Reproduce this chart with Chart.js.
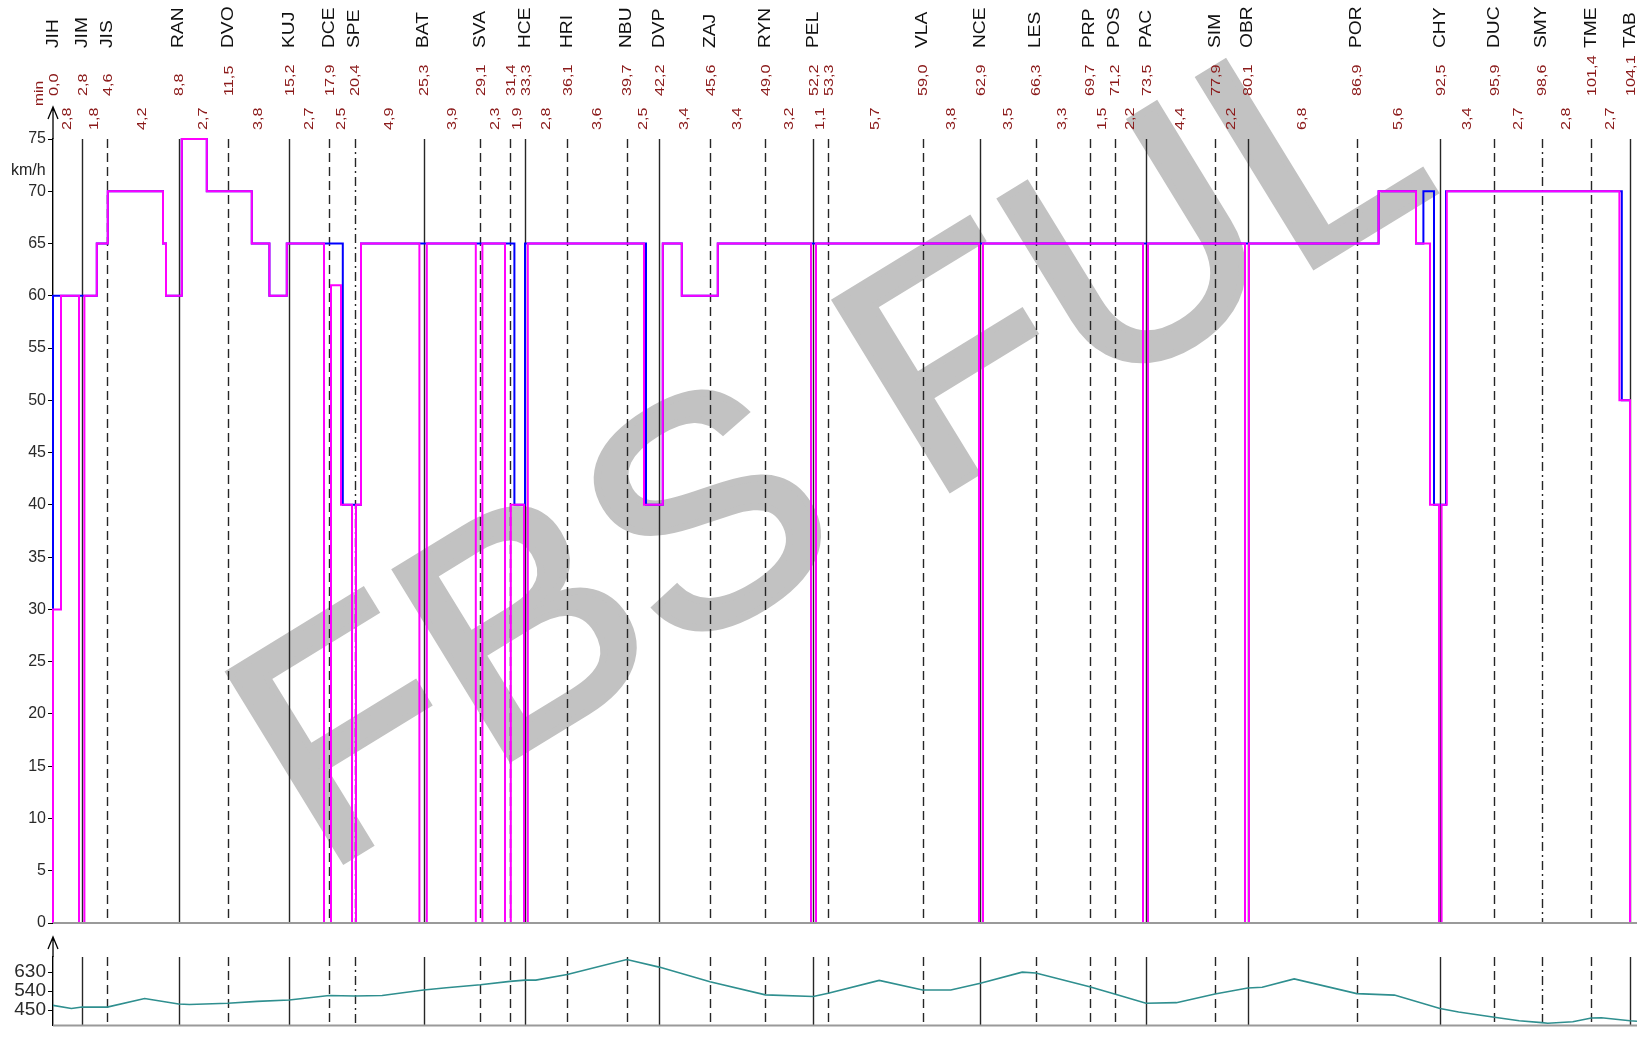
<!DOCTYPE html>
<html>
<head>
<meta charset="utf-8">
<script src="https://cdn.jsdelivr.net/npm/chart.js@4.4.1/dist/chart.umd.min.js"></script>
<style>
  body { margin: 0; background: #fff; }
  #wrap { position: relative; width: 1640px; height: 1039px; overflow: hidden; }
  canvas { position: absolute; left: 0; }
  #speed { top: 0; }
  #elev { top: 928px; }
</style>
</head>
<body>
<div id="wrap">
  <canvas id="speed" width="1640" height="940"></canvas>
  <canvas id="elev" width="1640" height="111"></canvas>
</div>
<script>
/* stanice a casy */
const stationNames = ['JIH','JIM','JIS','RAN','DVO','KUJ','DCE','SPE','BAT','SVA','','HCE','HRI','NBU','DVP','ZAJ','RYN','PEL','','VLA','NCE','LES','PRP','POS','PAC','SIM','OBR','POR','CHY','DUC','SMY','TME','TAB'];
const stationKm = [0, 1.45, 2.7, 6.28, 8.75, 11.8, 13.8, 15.08, 18.53, 21.37, 22.85, 23.6, 25.71, 28.69, 30.31, 32.85, 35.62, 38.01, 38.76, 43.48, 46.37, 49.14, 51.83, 53.08, 54.65, 58.1, 59.74, 65.19, 69.35, 72.07, 74.44, 76.92, 78.85];
const stationTimes = ['0,0','2,8','4,6','8,8','11,5','15,2','17,9','20,4','25,3','29,1','31,4','33,3','36,1','39,7','42,2','45,6','49,0','52,2','53,3','59,0','62,9','66,3','69,7','71,2','73,5','77,9','80,1','86,9','92,5','95,9','98,6','101,4','104,1'];
const segmentTimes = ['2,8','1,8','4,2','2,7','3,8','2,7','2,5','4,9','3,9','2,3','1,9','2,8','3,6','2,5','3,4','3,4','3,2','1,1','5,7','3,8','3,5','3,3','1,5','2,2','4,4','2,2','6,8','5,6','3,4','2,7','2,8','2,7'];
const stationLine = ['axis','solid','dash','solid','dash','solid','dash','dashdot','solid','dash','dash','solid','dash','dash','solid','dash','dash','solid','dash','dash','solid','dash','dash','dash','solid','dash','solid','dash','solid','dash','dashdot','dash','solid'];

/* jizdni profil (magenta) */
const planKm = [0, 0, 0.40, 1.30, 1.57, 2.19, 2.74, 5.50, 5.65, 6.44, 7.69, 9.94, 10.82, 11.69, 13.55, 13.90, 14.40, 14.95, 15.15, 15.40, 18.32, 18.69, 21.14, 21.47, 22.60, 22.89, 23.55, 23.74, 29.55, 30.49, 31.44, 33.24, 37.90, 38.15, 46.30, 46.50, 54.50, 54.75, 59.60, 59.80, 66.28, 68.15, 68.85, 69.30, 69.43, 69.69, 78.32, 78.85];
const planSpeed = [0, 30, 60, 0, 60, 65, 70, 65, 60, 75, 70, 65, 60, 65, 0, 61, 40, 0, 40, 65, 0, 65, 0, 65, 0, 40, 0, 65, 40, 65, 60, 65, 0, 65, 0, 65, 0, 65, 0, 65, 70, 65, 40, 0, 40, 70, 50, 0];

/* rychlostni omezeni (modra) */
const limitKm = [0, 0, 2.19, 2.74, 5.50, 5.65, 6.44, 7.69, 9.94, 10.82, 11.69, 14.49, 15.40, 23.07, 23.60, 29.65, 30.49, 31.44, 33.24, 66.28, 68.15, 68.52, 69.05, 69.65, 78.44, 78.85];
const limitSpeed = [30, 60, 65, 70, 65, 60, 75, 70, 65, 60, 65, 40, 65, 40, 65, 40, 65, 60, 65, 70, 65, 70, 40, 70, 50, 50];

/* nadmorska vyska */
const elevKm = [0, 0.92, 1.46, 2.71, 4.58, 6.28, 6.82, 8.74, 10.21, 11.81, 13.81, 15.08, 16.46, 18.53, 19.67, 21.37, 22.85, 23.6, 24.14, 25.71, 28.69, 30.31, 32.85, 35.62, 38.01, 38.76, 41.31, 43.48, 44.89, 46.37, 48.46, 49.14, 51.83, 53.08, 54.65, 56.17, 58.10, 59.74, 60.46, 62.06, 65.19, 67.07, 69.35, 70.28, 72.07, 73.31, 74.44, 74.74, 75.99, 76.92, 77.42, 78.85, 79.2];
const elevM = [472, 457, 464, 464, 505, 479, 476, 482, 491, 498, 519, 517, 519, 545, 556, 570, 586, 592, 592, 619, 690, 654, 584, 522, 514, 530, 591, 545, 545, 577, 630, 626, 561, 526, 482, 485, 526, 555, 558, 598, 528, 521, 457, 441, 416, 399, 390, 387, 394, 412, 413, 399, 397];
const elevTicks = [450, 540, 630];

const FONT = '"Liberation Sans", Arial, sans-serif';
const KM_MAX = 79.2;

function pts(xs, ys) {
  return xs.map((x, i) => ({ x: x, y: ys[i] }));
}

/* svisle cary stanic */
function drawStations(chart) {
  const ctx = chart.ctx;
  const area = chart.chartArea;
  const sx = chart.scales.x;
  ctx.save();
  ctx.strokeStyle = '#262626';
  ctx.lineWidth = 1.4;
  stationKm.forEach((km, i) => {
    const st = stationLine[i];
    if (st === 'axis') return;
    const x = Math.round(sx.getPixelForValue(km)) + 0.5;
    ctx.setLineDash(st === 'dash' ? [9, 5] : st === 'dashdot' ? [9, 4, 2, 4] : []);
    ctx.beginPath();
    ctx.moveTo(x, area.top);
    ctx.lineTo(x, area.bottom);
    ctx.stroke();
  });
  ctx.restore();
}

function drawAxisExtras(chart, tipY) {
  const ctx = chart.ctx;
  const a = chart.chartArea;
  ctx.save();
  // sipka na ose y
  ctx.strokeStyle = '#000';
  ctx.lineWidth = 1.3;
  ctx.beginPath();
  ctx.moveTo(a.left, a.top);
  ctx.lineTo(a.left, tipY);
  ctx.moveTo(a.left - 5, tipY + 12);
  ctx.lineTo(a.left, tipY);
  ctx.lineTo(a.left + 5, tipY + 12);
  ctx.stroke();
  // vodorovna osa
  ctx.strokeStyle = '#9a9a9a';
  ctx.lineWidth = 2;
  ctx.beginPath();
  ctx.moveTo(a.left, a.bottom);
  ctx.lineTo(a.right, a.bottom);
  ctx.stroke();
  ctx.restore();
}

function rotText(ctx, txt, x, y, stretch) {
  ctx.save();
  ctx.translate(x, y);
  ctx.rotate(-Math.PI / 2);
  ctx.scale(stretch, 1);
  ctx.fillText(txt, 0, 0);
  ctx.restore();
}

const speedPlugin = {
  id: 'speedExtras',
  beforeDraw(chart) {
    const ctx = chart.ctx;
    ctx.save();
    ctx.fillStyle = '#fff';
    ctx.fillRect(0, 0, chart.width, chart.height);
    // vodoznak
    ctx.translate(322, 874);
    ctx.rotate(-31.5 * Math.PI / 180);
    ctx.font = '320px ' + FONT;
    ctx.fillStyle = '#c2c2c2';
    ctx.strokeStyle = '#c2c2c2';
    ctx.lineWidth = 7;
    ctx.lineJoin = 'miter';
    ctx.fillText('FBS FUL', 0, 0);
    ctx.strokeText('FBS FUL', 0, 0);
    ctx.restore();
  },
  beforeDatasetsDraw(chart) {
    drawStations(chart);
  },
  afterDraw(chart) {
    const ctx = chart.ctx;
    const sx = chart.scales.x;
    drawAxisExtras(chart, 107);
    ctx.save();
    ctx.textAlign = 'left';
    ctx.textBaseline = 'middle';
    // nazvy stanic
    ctx.fillStyle = '#111';
    ctx.font = '17px ' + FONT;
    stationNames.forEach((n, i) => {
      if (n) rotText(ctx, n, sx.getPixelForValue(stationKm[i]), 48, 1.13);
    });
    // casy
    ctx.fillStyle = '#8b1a1a';
    ctx.font = '13px ' + FONT;
    stationTimes.forEach((t, i) => {
      rotText(ctx, t, sx.getPixelForValue(stationKm[i]) + 1, 96, 1.25);
    });
    segmentTimes.forEach((t, i) => {
      const mid = (stationKm[i] + stationKm[i + 1]) / 2;
      rotText(ctx, t, sx.getPixelForValue(mid), 130, 1.25);
    });
    rotText(ctx, 'min', 39, 106, 1.2);
    // jednotka
    ctx.fillStyle = '#222';
    ctx.font = '16px ' + FONT;
    ctx.textBaseline = 'alphabetic';
    ctx.fillText('km/h', 11, 175);
    ctx.restore();
  }
};

const elevPlugin = {
  id: 'elevExtras',
  beforeDatasetsDraw(chart) {
    drawStations(chart);
  },
  afterDraw(chart) {
    drawAxisExtras(chart, 9);
  }
};

function yAxis(opts) {
  return Object.assign({
    position: 'left',
    afterFit(s) { s.width = 53; },
    grid: { drawOnChartArea: false, drawTicks: true, tickLength: 5, color: '#000', lineWidth: 1 },
    border: { display: true, color: '#000', width: 1.4 },
  }, opts);
}

new Chart(document.getElementById('speed').getContext('2d'), {
  type: 'line',
  data: {
    datasets: [
      {
        data: pts(planKm, planSpeed),
        borderColor: '#ff00ff',
        borderWidth: 2,
        stepped: true,
        pointRadius: 0,
        clip: false,
      },
      {
        data: pts(limitKm, limitSpeed),
        borderColor: '#0000ff',
        borderWidth: 2,
        stepped: true,
        pointRadius: 0,
        clip: false,
      },
    ],
  },
  options: {
    responsive: false,
    animation: false,
    devicePixelRatio: 1,
    layout: { padding: { left: 0, right: 3, top: 139, bottom: 17 } },
    plugins: { legend: { display: false }, tooltip: { enabled: false } },
    scales: {
      x: { type: 'linear', min: 0, max: KM_MAX, display: false },
      y: yAxis({
        min: 0,
        max: 75,
        ticks: { stepSize: 5, padding: 2, color: '#2a2a2a', font: { family: FONT, size: 16 } },
      }),
    },
  },
  plugins: [speedPlugin],
});

new Chart(document.getElementById('elev').getContext('2d'), {
  type: 'line',
  data: {
    datasets: [
      {
        data: pts(elevKm, elevM),
        borderColor: '#2f8f8f',
        borderWidth: 1.6,
        pointRadius: 0,
        tension: 0,
      },
    ],
  },
  options: {
    responsive: false,
    animation: false,
    devicePixelRatio: 1,
    layout: { padding: { left: 0, right: 3, top: 29, bottom: 6 } },
    plugins: { legend: { display: false }, tooltip: { enabled: false } },
    scales: {
      x: { type: 'linear', min: 0, max: KM_MAX, display: false },
      y: yAxis({
        min: 376,
        max: 702,
        afterBuildTicks(s) { s.ticks = elevTicks.map(v => ({ value: v })); },
        ticks: { padding: 2, color: '#2a2a2a', font: { family: FONT, size: 19 } },
      }),
    },
  },
  plugins: [elevPlugin],
});
</script>
</body>
</html>
